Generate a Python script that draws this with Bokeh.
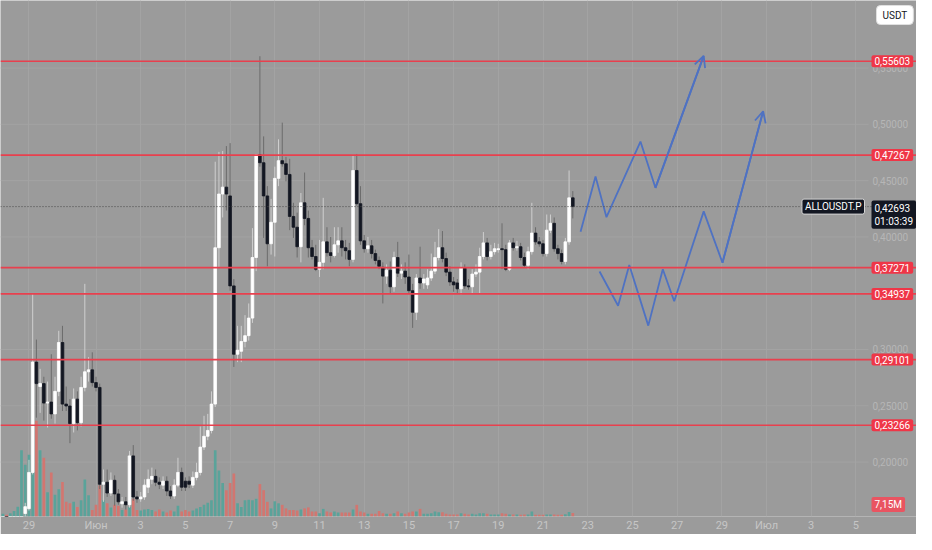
import pandas as pd
from bokeh.plotting import figure
from bokeh.models import (Range1d, FixedTicker, Span, Label, Arrow, OpenHead,
                          ColumnDataSource)
from bokeh.core.properties import value
from bokeh.embed import file_html
from bokeh.resources import INLINE

# ---------------- data ----------------
first_candle = "2025-05-27 20:00"
candle_step = "4h"
axis_origin = "2025-06-01"

opens = [
    0.1300, 0.1350, 0.1330, 0.1390, 0.1440, 0.1460, 0.1543, 0.1586, 0.1908, 0.2888,
    0.2671, 0.2697, 0.2524, 0.2533, 0.2428, 0.2628, 0.3062, 0.2515, 0.2498, 0.2342,
    0.2559, 0.2350, 0.2663, 0.2802, 0.2819, 0.2706, 0.2663, 0.1803, 0.1821, 0.1725,
    0.1838, 0.1717, 0.1630, 0.1647, 0.1621, 0.2055, 0.1690, 0.1673, 0.1690, 0.1777,
    0.1847, 0.1873, 0.1821, 0.1795, 0.1830, 0.1743, 0.1699, 0.1795, 0.1908, 0.1830,
    0.1830, 0.1795, 0.1864, 0.1908, 0.2133, 0.2229, 0.2281, 0.2515, 0.3904, 0.4381,
    0.4442, 0.4364, 0.3565, 0.2958, 0.2984, 0.3071, 0.3123, 0.3279, 0.3817, 0.4729,
    0.4659, 0.4364, 0.3939, 0.4130, 0.4520, 0.4677, 0.4650, 0.4555, 0.4182, 0.4086,
    0.3913, 0.4303, 0.4164, 0.3904, 0.3826, 0.3713, 0.3774, 0.3956, 0.3860, 0.3835,
    0.3930, 0.3965, 0.3904, 0.3878, 0.3800, 0.4590, 0.4295, 0.3965, 0.3895, 0.3921,
    0.3852, 0.3791, 0.3730, 0.3652, 0.3704, 0.3557, 0.3817, 0.3678, 0.3696, 0.3644,
    0.3522, 0.3331, 0.3635, 0.3591, 0.3574, 0.3635, 0.3696, 0.3817, 0.3904, 0.3808,
    0.3687, 0.3600, 0.3591, 0.3539, 0.3722, 0.3565, 0.3557, 0.3670, 0.3687, 0.3826,
    0.3947, 0.3826, 0.3869, 0.3887, 0.3895, 0.3887, 0.3713, 0.3947, 0.3904, 0.3913,
    0.3817, 0.3748, 0.3869, 0.4034, 0.3956, 0.3939, 0.3852, 0.4060, 0.4121, 0.3895,
    0.3852, 0.3782, 0.3956, 0.4347,
]
highs = [
    0.1380, 0.1400, 0.1420, 0.1460, 0.1500, 0.1510, 0.1638, 0.2020, 0.3496, 0.3088,
    0.2828, 0.2758, 0.2715, 0.2958, 0.2758, 0.3166, 0.3210, 0.2671, 0.2559, 0.2654,
    0.2628, 0.2758, 0.3583, 0.2932, 0.2975, 0.2758, 0.2697, 0.1934, 0.1934, 0.1908,
    0.1882, 0.1760, 0.1690, 0.1690, 0.2099, 0.2151, 0.1743, 0.1734, 0.1847, 0.1934,
    0.1951, 0.1934, 0.1864, 0.1873, 0.1873, 0.1786, 0.1847, 0.2038, 0.1951, 0.1864,
    0.1873, 0.1916, 0.1994, 0.2316, 0.2411, 0.2428, 0.2628, 0.4668, 0.4755, 0.4763,
    0.4807, 0.4833, 0.3626, 0.3210, 0.3210, 0.3305, 0.3409, 0.4078, 0.4737, 0.5605,
    0.4893, 0.4451, 0.4338, 0.4624, 0.4867, 0.5015, 0.4711, 0.4694, 0.4303, 0.4216,
    0.4390, 0.4572, 0.4234, 0.3973, 0.3930, 0.3973, 0.4347, 0.4086, 0.3999, 0.4086,
    0.4086, 0.4086, 0.3973, 0.3947, 0.4729, 0.4737, 0.4451, 0.4017, 0.3999, 0.3973,
    0.3887, 0.3826, 0.3774, 0.3756, 0.3782, 0.3869, 0.3956, 0.3756, 0.3774, 0.3843,
    0.3583, 0.3670, 0.3913, 0.3670, 0.3713, 0.3852, 0.3956, 0.4069, 0.4052, 0.3860,
    0.3739, 0.3644, 0.3626, 0.3774, 0.3756, 0.3626, 0.3713, 0.3756, 0.3904, 0.4043,
    0.3991, 0.3930, 0.3947, 0.3939, 0.4121, 0.3930, 0.3973, 0.3991, 0.3965, 0.3947,
    0.3860, 0.3913, 0.4303, 0.4086, 0.3999, 0.3973, 0.4199, 0.4199, 0.4173, 0.3930,
    0.3887, 0.3991, 0.4590, 0.4407,
]
lows = [
    0.1250, 0.1300, 0.1310, 0.1370, 0.1410, 0.1400, 0.1500, 0.1569, 0.1890, 0.2394,
    0.2437, 0.2368, 0.2307, 0.2385, 0.2342, 0.2585, 0.2454, 0.2454, 0.2168, 0.2263,
    0.2281, 0.2316, 0.2628, 0.2715, 0.2671, 0.2628, 0.1760, 0.1647, 0.1690, 0.1699,
    0.1612, 0.1621, 0.1595, 0.1578, 0.1595, 0.1656, 0.1638, 0.1647, 0.1664, 0.1725,
    0.1803, 0.1786, 0.1760, 0.1760, 0.1699, 0.1673, 0.1673, 0.1777, 0.1743, 0.1743,
    0.1769, 0.1769, 0.1838, 0.1882, 0.2107, 0.2194, 0.2255, 0.2489, 0.3730, 0.4173,
    0.4234, 0.3522, 0.2845, 0.2888, 0.2888, 0.3019, 0.3079, 0.3236, 0.3696, 0.4624,
    0.3991, 0.3739, 0.3843, 0.3826, 0.4451, 0.4624, 0.4494, 0.4060, 0.3991, 0.3817,
    0.3774, 0.4104, 0.3817, 0.3800, 0.3696, 0.3644, 0.3713, 0.3826, 0.3774, 0.3817,
    0.3860, 0.3826, 0.3800, 0.3739, 0.3774, 0.4277, 0.3930, 0.3860, 0.3860, 0.3808,
    0.3756, 0.3713, 0.3409, 0.3583, 0.3496, 0.3513, 0.3644, 0.3626, 0.3583, 0.3496,
    0.3192, 0.3262, 0.3539, 0.3539, 0.3539, 0.3609, 0.3670, 0.3791, 0.3774, 0.3652,
    0.3565, 0.3513, 0.3496, 0.3487, 0.3539, 0.3531, 0.3496, 0.3644, 0.3496, 0.3800,
    0.3791, 0.3800, 0.3843, 0.3860, 0.3713, 0.3696, 0.3696, 0.3878, 0.3878, 0.3791,
    0.3730, 0.3713, 0.3843, 0.3930, 0.3913, 0.3826, 0.3826, 0.4034, 0.3869, 0.3800,
    0.3756, 0.3756, 0.3930, 0.4164,
]
closes = [
    0.1350, 0.1330, 0.1390, 0.1440, 0.1480, 0.1500, 0.1604, 0.1908, 0.2888, 0.2697,
    0.2697, 0.2524, 0.2533, 0.2428, 0.2628, 0.3062, 0.2515, 0.2498, 0.2342, 0.2559,
    0.2350, 0.2663, 0.2802, 0.2819, 0.2706, 0.2663, 0.1803, 0.1821, 0.1725, 0.1838,
    0.1717, 0.1647, 0.1647, 0.1621, 0.2055, 0.1690, 0.1673, 0.1690, 0.1795, 0.1847,
    0.1873, 0.1821, 0.1803, 0.1830, 0.1743, 0.1699, 0.1795, 0.1908, 0.1777, 0.1777,
    0.1803, 0.1864, 0.1908, 0.2133, 0.2229, 0.2281, 0.2515, 0.3904, 0.4381, 0.4442,
    0.4381, 0.3565, 0.2958, 0.2993, 0.3071, 0.3123, 0.3279, 0.3817, 0.4729, 0.4659,
    0.4364, 0.3939, 0.4130, 0.4520, 0.4677, 0.4650, 0.4555, 0.4182, 0.4086, 0.3913,
    0.4303, 0.4164, 0.3904, 0.3826, 0.3713, 0.3774, 0.3956, 0.3860, 0.3835, 0.3930,
    0.3965, 0.3904, 0.3878, 0.3800, 0.4590, 0.4295, 0.3965, 0.3895, 0.3921, 0.3852,
    0.3791, 0.3739, 0.3652, 0.3704, 0.3557, 0.3817, 0.3678, 0.3696, 0.3644, 0.3522,
    0.3331, 0.3635, 0.3591, 0.3626, 0.3635, 0.3696, 0.3817, 0.3904, 0.3808, 0.3687,
    0.3600, 0.3574, 0.3539, 0.3722, 0.3565, 0.3557, 0.3670, 0.3687, 0.3826, 0.3947,
    0.3826, 0.3869, 0.3895, 0.3895, 0.3887, 0.3713, 0.3947, 0.3904, 0.3913, 0.3817,
    0.3748, 0.3869, 0.4034, 0.3956, 0.3939, 0.3852, 0.4060, 0.4121, 0.3895, 0.3852,
    0.3782, 0.3956, 0.4347, 0.42693,
]
volumes_m = [
    5.2, 3.3, 6.4, 11, 19.3, 131, 102, 122, 253, 189,
    131, 116, 48, 87, 43, 54, 68, 29, 26, 29,
    19, 32, 73, 42, 13, 23, 61, 32, 26, 18,
    23, 21, 13, 14, 19, 35, 13, 12, 14, 15,
    13, 10, 14, 10, 8, 12, 10, 21, 10, 13,
    10, 12, 16, 19, 23, 27, 32, 131, 91, 66,
    52, 66, 85, 26, 19, 32, 33, 32, 35, 64,
    52, 29, 16, 30, 26, 23, 16, 13, 13, 12,
    14, 16, 18, 10, 10, 6.4, 15, 10, 7.7, 10,
    7.7, 7.7, 7.7, 7.7, 14, 23, 10, 7.7, 5.2, 5.2,
    5.2, 11, 6.4, 5.2, 5.2, 6.4, 10, 6.4, 5.2, 7.7,
    10, 10, 15, 5.2, 5.2, 6.4, 10, 8.3, 8.3, 5.2,
    3.9, 3.9, 3.9, 6.4, 5.2, 3.9, 5.2, 3.9, 6.4, 6.4,
    5.2, 3.9, 3.9, 3.9, 6.4, 5.2, 3.9, 3.9, 3.9, 3.3,
    3.9, 3.9, 9.7, 3.3, 3.3, 3.3, 3.9, 3.9, 3.9, 3.3,
    3.3, 4.4, 9.1, 7.15,
]

level_prices = [0.55603, 0.47267, 0.37271, 0.34937, 0.29101, 0.23266]
current_price = 0.42693
current_volume_m = 7.15
symbol = "ALLOUSDT.P"
countdown = "01:03:39"
currency = "USDT"

price_ticks = [0.20, 0.25, 0.30, 0.35, 0.40, 0.45, 0.50, 0.55]
tick_dates = ["2025-05-29", "2025-06-01", "2025-06-03", "2025-06-05", "2025-06-07",
              "2025-06-09", "2025-06-11", "2025-06-13", "2025-06-15", "2025-06-17",
              "2025-06-19", "2025-06-21", "2025-06-23", "2025-06-25", "2025-06-27",
              "2025-06-29", "2025-07-01", "2025-07-03", "2025-07-05"]
tick_labels = ["29", "Июн", "3", "5", "7", "9", "11", "13", "15", "17", "19", "21",
               "23", "25", "27", "29", "Июл", "3", "5"]

# projected paths (days after 1 June, price)
up_path_day = [21.68, 22.35, 22.84, 24.36, 25.03, 27.19]
up_path_price = [0.4045, 0.4537, 0.4175, 0.4847, 0.4436, 0.5608]
low_path_day = [22.53, 23.36, 23.86, 24.71, 25.36, 25.87, 27.19, 28.03, 29.85]
low_path_price = [0.3693, 0.3389, 0.3750, 0.3212, 0.3713, 0.3429, 0.4227, 0.3771, 0.5116]

# view window (price scale lives in the right part of the frame)
x_view = (-4.273, 36.711)
y_view = (0.15165, 0.6100)
vol_view = (0, 1019)
scale_px = 48

# ---------------- styling ----------------
BG = "#9b9b9b"
GRID = "#a3a3a3"
UP_BODY = "#ffffff"
DOWN_BODY = "#131722"
UP_WICK = "#cfcfcf"
DOWN_WICK = "#6c6c6c"
VOL_UP = "#5aa39a"
VOL_DOWN = "#d27670"
LEVEL = "#e8404e"
LEVEL_BOX = "#ef3647"
BLUE = "#4f72c2"
FONT = "Roboto"
LBL = "10px"

assert len(opens) == len(highs) == len(lows) == len(closes) == len(volumes_m)

origin = pd.Timestamp(axis_origin)
times = pd.date_range(first_candle, periods=len(opens), freq=candle_step)
day = list((times - origin) / pd.Timedelta("1D"))
up = [c >= o for o, c in zip(opens, closes)]

src = ColumnDataSource(dict(
    x=day, o=opens, h=highs, l=lows, c=closes,
    top=[max(o, c) for o, c in zip(opens, closes)],
    bottom=[min(o, c) for o, c in zip(opens, closes)],
    body=[UP_BODY if u else DOWN_BODY for u in up],
    wick=[UP_WICK if u else DOWN_WICK for u in up],
    vol=volumes_m,
    vcol=[VOL_UP if u else VOL_DOWN for u in up],
))

W, H = 916, 534
p = figure(width=W, height=H, output_backend="svg", toolbar_location=None,
           x_range=Range1d(*x_view), y_range=Range1d(*y_view),
           y_axis_location=None,
           min_border_left=0, min_border_top=0, min_border_right=0,
           min_border_bottom=0,
           background_fill_color=BG, border_fill_color=BG,
           outline_line_color=None)
p.extra_y_ranges = {"vol": Range1d(*vol_view)}

px_per_day = W / (x_view[1] - x_view[0])
chart_right = x_view[1] - scale_px / px_per_day

tick_days = [int((pd.Timestamp(d) - origin) / pd.Timedelta("1D")) for d in tick_dates]

# x axis
xa = p.xaxis[0]
xa.ticker = FixedTicker(ticks=tick_days)
xa.major_label_overrides = {d: t for d, t in zip(tick_days, tick_labels)}
xa.axis_line_color = None
xa.major_tick_line_color = None
xa.minor_tick_line_color = None
xa.major_tick_out = 0
xa.major_tick_in = 0
xa.major_label_text_font = FONT
xa.major_label_text_font_size = "11px"
xa.major_label_text_color = "#c6c6c6"
xa.major_label_standoff = 2

p.xgrid.ticker = FixedTicker(ticks=tick_days)
p.xgrid.grid_line_color = GRID
p.ygrid.grid_line_color = None

# horizontal grid inside the chart area only
p.segment(x0=[x_view[0]] * len(price_ticks), x1=[chart_right] * len(price_ticks),
          y0=price_ticks, y1=price_ticks, line_color=GRID, line_width=1)

# price scale texts
def fmt(v):
    return f"{v:.5f}".replace(".", ",")

p.text(x=[chart_right] * len(price_ticks), y=price_ticks,
       text=[fmt(v) for v in price_ticks], x_offset=4,
       text_font=value(FONT), text_font_size=LBL, text_color="#b6b6b6",
       text_align="left", text_baseline="middle")

# volume
p.vbar(x="x", width=0.12, top="vol", bottom=0, fill_color="vcol",
       line_color=None, y_range_name="vol", source=src)

# candles
p.segment(x0="x", y0="l", x1="x", y1="h", line_color="wick", line_width=1, source=src)
p.vbar(x="x", width=0.12, top="top", bottom="bottom", fill_color="body",
       line_color="body", line_width=0.8, source=src)

# levels
for lv in level_prices:
    p.add_layout(Span(location=lv, dimension="width", line_color=LEVEL, line_width=1.6))
p.add_layout(Span(location=current_price, dimension="width", line_color="#4a4a4a",
                  line_width=1, line_dash="1 2"))

# projections
p.line(up_path_day, up_path_price, line_color=BLUE, line_width=1.8)
p.line(low_path_day, low_path_price, line_color=BLUE, line_width=1.8)
for xs, ys in ((up_path_day, up_path_price), (low_path_day, low_path_price)):
    p.add_layout(Arrow(end=OpenHead(size=11, line_color=BLUE, line_width=1.8),
                       x_start=xs[-2], y_start=ys[-2], x_end=xs[-1], y_end=ys[-1],
                       line_color=BLUE, line_width=1.8))

for lv in level_prices:
    p.add_layout(Label(x=chart_right, y=lv, x_offset=3, text=fmt(lv),
                       text_align="left", text_baseline="middle",
                       text_font=FONT, text_font_size=LBL, text_color="white",
                       background_fill_color=LEVEL_BOX, padding=(3, 2),
                       border_radius=2))

p.add_layout(Label(x=chart_right, y=current_price, x_offset=3, y_offset=6,
                   text=fmt(current_price) + "\n" + countdown,
                   text_align="left", text_baseline="top",
                   text_font=FONT, text_font_size=LBL, text_color="white",
                   background_fill_color=DOWN_BODY, padding=(3, 2),
                   border_radius=2))
p.add_layout(Label(x=chart_right, y=current_price, x_offset=-4, text=symbol,
                   text_align="right", text_baseline="middle",
                   text_font=FONT, text_font_size=LBL, text_color="white",
                   background_fill_color=DOWN_BODY, border_line_color="#d6d6d6",
                   padding=(3, 2), border_radius=2))
p.add_layout(Label(x=chart_right, y=y_view[0], x_offset=3, y_offset=12,
                   text=f"{current_volume_m:.2f}M".replace(".", ","),
                   text_align="left", text_baseline="middle",
                   text_font=FONT, text_font_size=LBL, text_color="white",
                   background_fill_color="#e95461", padding=(3, 2),
                   border_radius=2))
p.add_layout(Label(x=chart_right, y=y_view[1], x_offset=8, y_offset=-5, text=currency,
                   text_align="left", text_baseline="top",
                   text_font=FONT, text_font_size=LBL, text_color="#131722",
                   background_fill_color="white", border_line_color="#e0e0e0",
                   padding=(6, 4), border_radius=4))

open("out.html", "w").write(file_html(p, INLINE))
